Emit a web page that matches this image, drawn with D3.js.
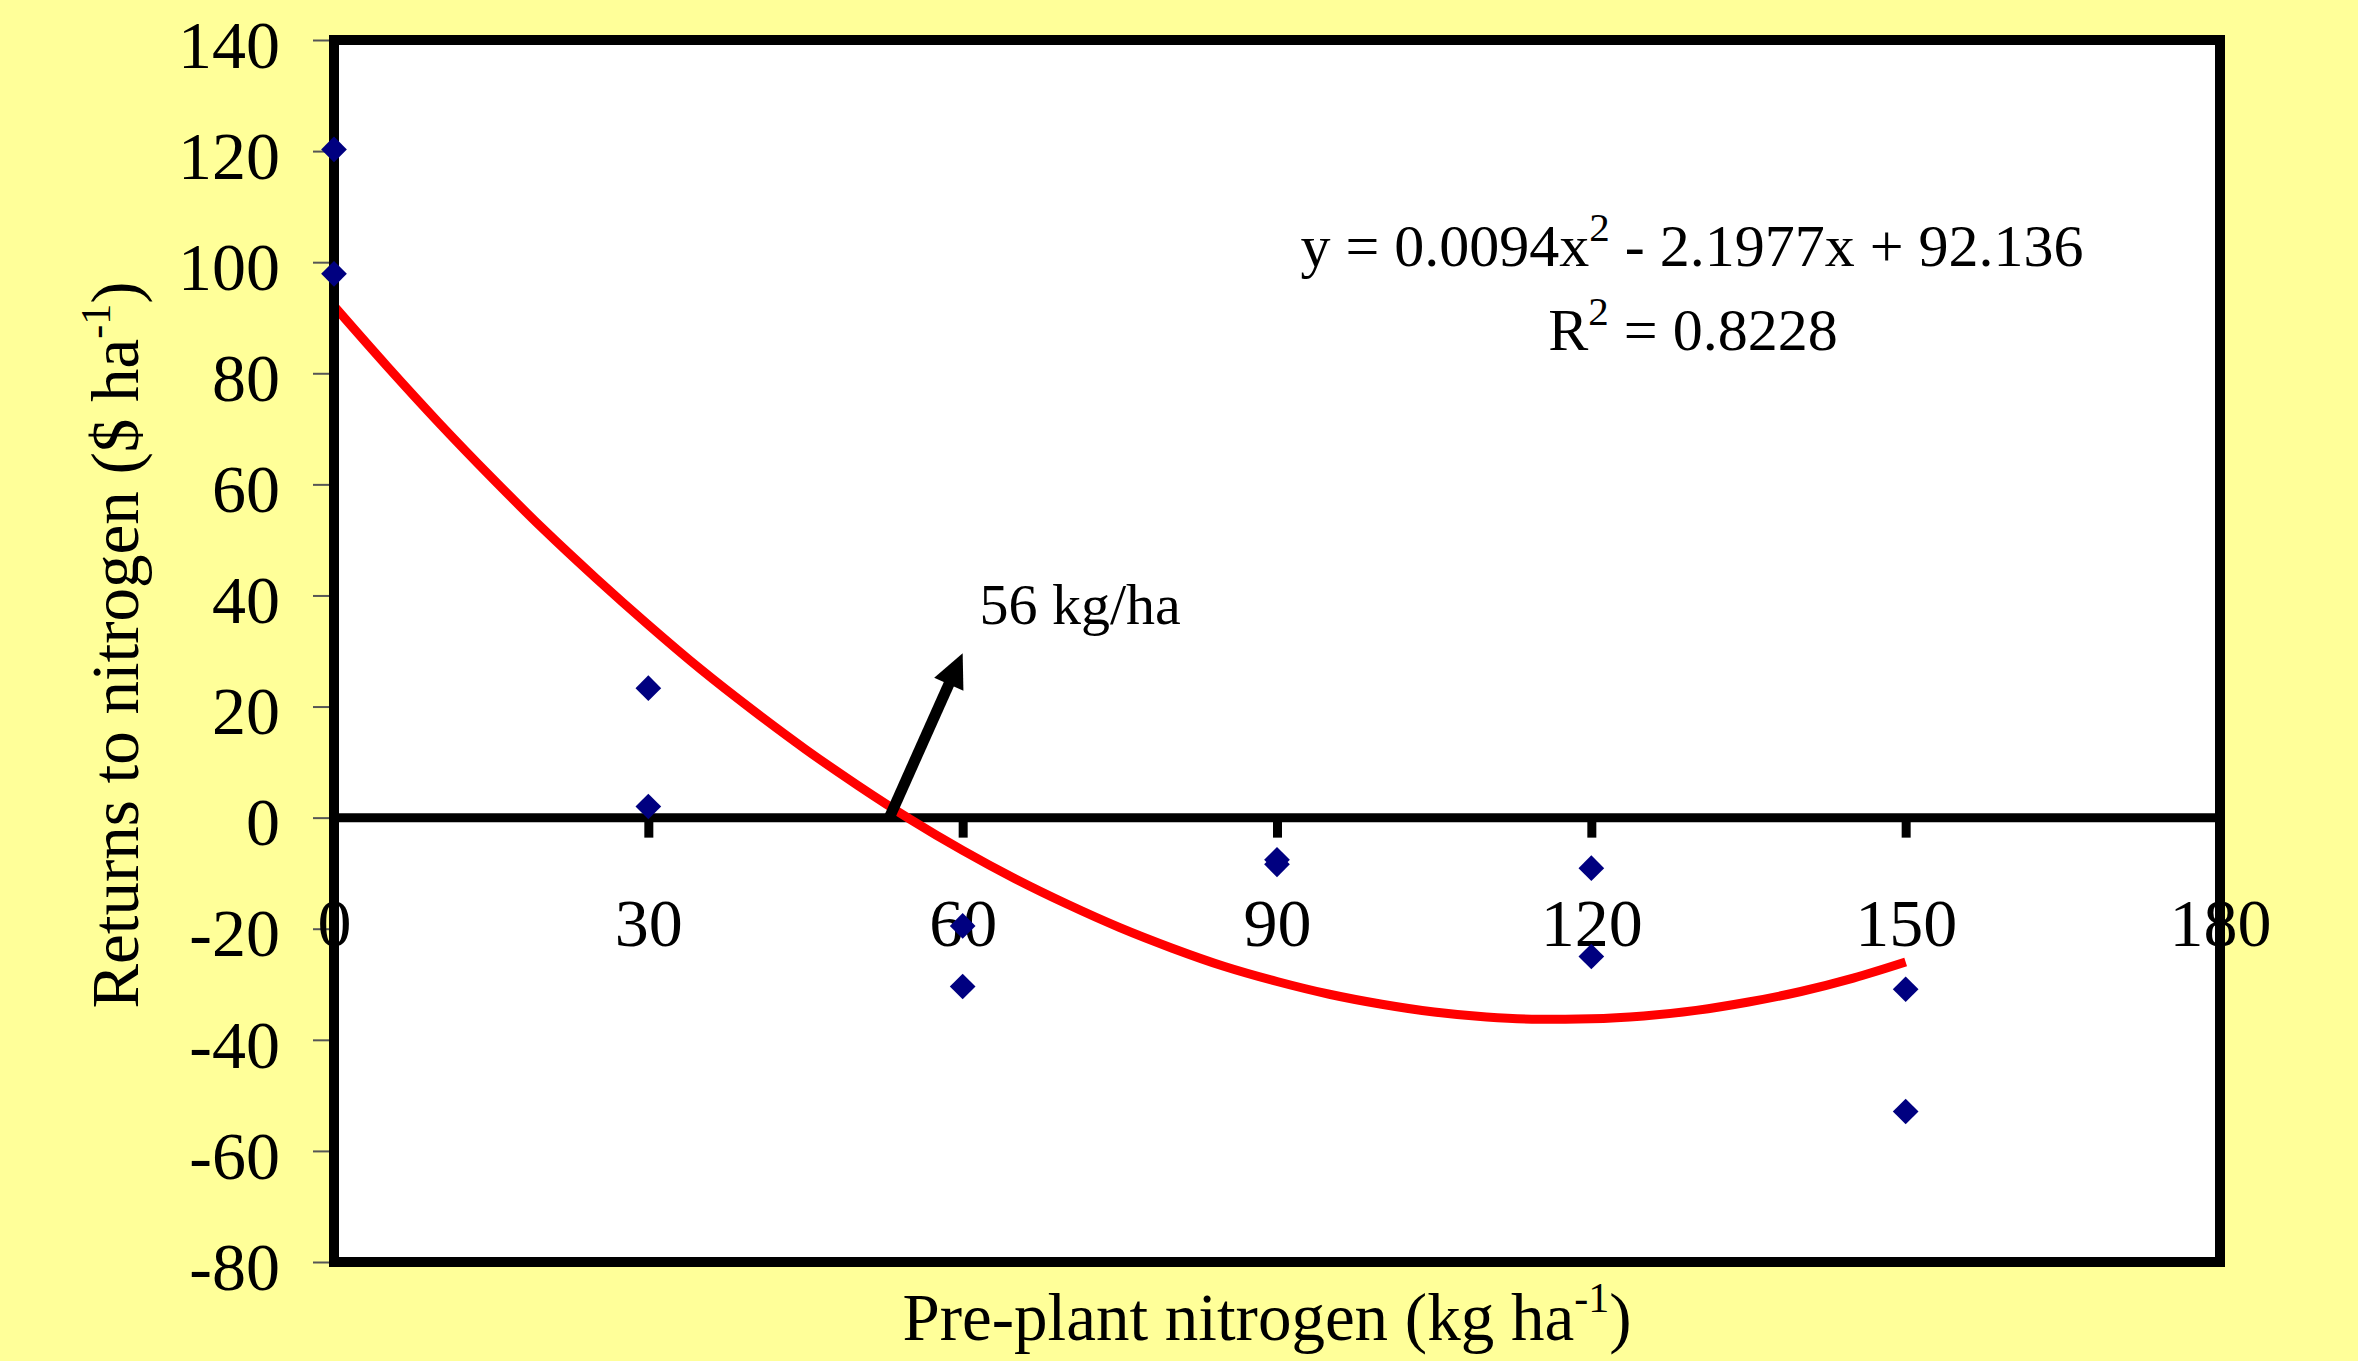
<!DOCTYPE html>
<html>
<head>
<meta charset="utf-8">
<script src="https://cdn.jsdelivr.net/npm/d3@7"></script>
<style>
  html, body { margin: 0; padding: 0; background: #FFFF99; }
  svg { display: block; }
  text { font-family: "Liberation Serif", "Times New Roman", serif; fill: #000; }
</style>
</head>
<body>
<svg id="chart" width="2358" height="1361"></svg>
<script>
// ---------------- DATA ----------------
const nitrogenRates = [0, 0, 30, 30, 60, 60, 90, 90, 120, 120, 150, 150];
const returnsToN   = [120.3, 97.9, 23.3, 2.0, -19.5, -30.4, -7.6, -8.4, -9.1, -25.0, -30.9, -52.9];

// polynomial trendline
const trendX = [0, 5, 10, 15, 20, 25, 30, 35, 40, 45, 50, 55, 60, 65, 70, 75, 80, 85, 90, 95, 100, 105, 110, 115, 120, 125, 130, 135, 140, 145, 150];
const trendY = [92.1, 81.4, 71.1, 61.3, 51.9, 43.1, 34.7, 26.7, 19.3, 12.3, 5.8, -0.3, -5.9, -11.0, -15.6, -19.8, -23.5, -26.8, -29.5, -31.8, -33.6, -35.0, -35.9, -36.3, -36.2, -35.7, -34.7, -33.2, -31.3, -28.9, -26.0];

const xTickValues = [0, 30, 60, 90, 120, 150, 180];
const yTickValues = [-80, -60, -40, -20, 0, 20, 40, 60, 80, 100, 120, 140];

// annotation arrow (start on zero line, tip) and its label
const arrowFrom = [53, 0];
const arrowTo   = [60, 29.6];
const arrowLabel = "56 kg/ha";
const arrowLabelAt = [61.6, 34.9];

const eqMain = ["y = 0.0094x", "2", " - 2.1977x + 92.136"];
const eqR2   = ["R", "2", " = 0.8228"];
const xTitle = ["Pre-plant nitrogen (kg ha", "-1", ")"];
const yTitle = ["Returns to nitrogen ($ ha", "-1", ")"];

// ---------------- LAYOUT ----------------
const svg = d3.select("#chart");
const L = 334, R = 2220, T = 40, B = 1262;

const x = d3.scaleLinear().domain([0, 180]).range([L, R]);
const y = d3.scaleLinear().domain([-80, 140]).range([B, T]);
const fmt = d => String(d);

// background
svg.append("rect").attr("x", 0).attr("y", 0).attr("width", 2358).attr("height", 1361).attr("fill", "#FFFF99");

// plot area
svg.append("rect")
  .attr("x", L).attr("y", T).attr("width", R - L).attr("height", B - T)
  .attr("fill", "#FFFFFF");

// y axis ticks + labels
const yAxis = d3.axisLeft(y).tickValues(yTickValues).tickSize(21).tickPadding(33).tickFormat(fmt);
const yg = svg.append("g").attr("transform", `translate(${L},0)`).call(yAxis);
yg.select(".domain").remove();
yg.selectAll(".tick line").attr("stroke", "#555").attr("stroke-width", 2);
yg.selectAll(".tick text")
  .attr("font-family", "Liberation Serif, Times New Roman, serif")
  .attr("font-size", 68).attr("fill", "#000").attr("dy", "0.4em");

// zero line
svg.append("line")
  .attr("x1", L).attr("x2", R).attr("y1", y(0)).attr("y2", y(0))
  .attr("stroke", "#000").attr("stroke-width", 9);

// x axis ticks at zero line
const xAxis = d3.axisBottom(x).tickValues(xTickValues).tickSize(20).tickFormat(fmt);
const xg = svg.append("g").attr("transform", `translate(0,${y(0)})`).call(xAxis);
xg.select(".domain").remove();
xg.selectAll(".tick line").attr("stroke", "#000").attr("stroke-width", 9);
xg.selectAll(".tick text")
  .attr("font-family", "Liberation Serif, Times New Roman, serif")
  .attr("font-size", 68).attr("fill", "#000")
  .attr("y", 128).attr("dy", 0);

// trendline
const trendPts = trendX.map((v, i) => [v, trendY[i]]);
svg.append("path")
  .datum(trendPts)
  .attr("fill", "none")
  .attr("stroke", "#FF0000")
  .attr("stroke-width", 9)
  .attr("stroke-linejoin", "round")
  .attr("d", d3.line().x(d => x(d[0])).y(d => y(d[1])).curve(d3.curveMonotoneX));

// arrow
const ax0 = x(arrowFrom[0]), ay0 = y(arrowFrom[1]);
const ax1 = x(arrowTo[0]), ay1 = y(arrowTo[1]);
const len = Math.hypot(ax1 - ax0, ay1 - ay0);
const ux = (ax1 - ax0) / len, uy = (ay1 - ay0) / len;
const headL = 34, headW = 16;
const bx = ax1 - ux * headL, by = ay1 - uy * headL;
svg.append("line")
  .attr("x1", ax0).attr("y1", ay0).attr("x2", bx + ux * 2).attr("y2", by + uy * 2)
  .attr("stroke", "#000").attr("stroke-width", 11);
svg.append("polygon")
  .attr("points", [[ax1, ay1], [bx - uy * headW, by + ux * headW], [bx + uy * headW, by - ux * headW]].map(p => p.join(",")).join(" "))
  .attr("fill", "#000");

svg.append("text")
  .attr("x", x(arrowLabelAt[0])).attr("y", y(arrowLabelAt[1]))
  .attr("font-size", 58)
  .text(arrowLabel);

// equation
function supText(sel, parts, size, supSize, shift) {
  sel.append("tspan").text(parts[0]);
  sel.append("tspan").attr("font-size", supSize).attr("dy", -shift).text(parts[1]);
  sel.append("tspan").attr("dy", shift).text(parts[2]);
  sel.attr("font-size", size);
  return sel;
}
supText(svg.append("text").attr("x", 1692).attr("y", 266).attr("text-anchor", "middle"), eqMain, 60, 41, 25);
supText(svg.append("text").attr("x", 1693).attr("y", 350).attr("text-anchor", "middle"), eqR2, 60, 41, 25);

// axis titles
supText(svg.append("text").attr("x", (L + R) / 2 - 10).attr("y", 1340).attr("text-anchor", "middle"), xTitle, 67, 42, 28);
supText(svg.append("text")
  .attr("transform", `translate(138,${(T + B) / 2 - 6}) rotate(-90)`)
  .attr("text-anchor", "middle"), yTitle, 67, 42, 28);

// frame
svg.append("rect")
  .attr("x", L).attr("y", T).attr("width", R - L).attr("height", B - T)
  .attr("fill", "none").attr("stroke", "#000").attr("stroke-width", 10);

// data points (diamonds)
svg.append("g").selectAll("path")
  .data(nitrogenRates.map((n, i) => [n, returnsToN[i]]))
  .join("path")
  .attr("d", d3.symbol(d3.symbolSquare, 330))
  .attr("transform", d => `translate(${x(d[0])},${y(d[1])}) rotate(45)`)
  .attr("fill", "#000080");
</script>
</body>
</html>
